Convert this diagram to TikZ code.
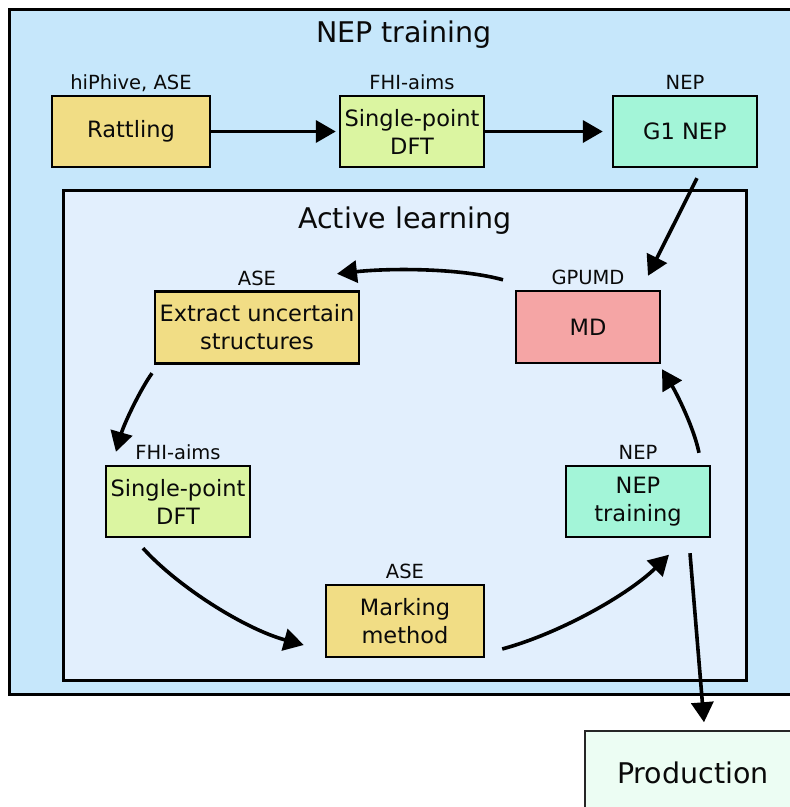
\documentclass[tikz,border=0pt]{standalone}
\usepackage{fontspec}
\setmainfont{DejaVu Sans}
\usetikzlibrary{arrows.meta,calc}
\definecolor{outerbg}{HTML}{C6E7FB}
\definecolor{innerbg}{HTML}{E2EFFD}
\definecolor{ylw}{HTML}{F1DD85}
\definecolor{lgreen}{HTML}{DBF5A1}
\definecolor{mint}{HTML}{A3F5D8}
\definecolor{pinkc}{HTML}{F5A5A5}
\definecolor{prodc}{HTML}{ECFDF3}
\definecolor{txt}{HTML}{0A0A0A}
\begin{document}
\begin{tikzpicture}[x=1pt,y=-1pt,
  region/.style={draw=black, line width=3pt, inner sep=0pt},
  box/.style={draw=black, line width=2.4pt, inner sep=0pt, align=center,
    text=txt, font=\fontsize{22.5}{28}\selectfont, minimum height=71pt},
  lab/.style={font=\fontsize{19.5}{22}\selectfont, text=txt, inner sep=0pt,
    text depth=0pt},
  conn/.style={line width=3.6pt, draw=black,
    -{Triangle[length=20pt,width=22pt]}},
  title/.style={font=\fontsize{28.5}{32}\selectfont, text=txt, anchor=base}
]
\useasboundingbox (0,0) rectangle (790,807);
\clip (0,0) rectangle (790,807);

% regions
\node[region, fill=outerbg, minimum width=802pt, minimum height=685pt] (outer) at (410,352) {};
\node[title] (outert) at (404,42) {NEP training};
\node[region, fill=innerbg, minimum width=683pt, minimum height=490pt] (inner) at (404.5,435) {};
\node[title] (innert) at (405,228) {Active learning};

% top row
\node[box, fill=ylw, minimum width=158pt,
  label={[lab, label distance=5pt]above:hiPhive, ASE}] (rat) at (131,131.5) {Rattling};
\node[box, fill=lgreen, minimum width=144pt,
  label={[lab, label distance=5pt]above:FHI-aims}] (dft1) at (412,131.5) {Single-point\\DFT};
\node[box, fill=mint, minimum width=144pt,
  label={[lab, label distance=5pt]above:NEP}] (g1) at (685,131.5) {G1 NEP};

% active learning loop
\node[box, fill=pinkc, minimum width=144pt, minimum height=72pt,
  label={[lab, label distance=5pt]above:GPUMD}] (md) at (588,327) {MD};
\node[box, fill=ylw, minimum width=204pt, minimum height=72pt,
  label={[lab, label distance=5pt]above:ASE}] (ext) at (257,327.5) {Extract uncertain\\structures};
\node[box, fill=lgreen, minimum width=144pt,
  label={[lab, label distance=5pt]above:FHI-aims}] (dft2) at (178,501.5) {Single-point\\DFT};
\node[box, fill=ylw, minimum width=158pt, minimum height=72pt,
  label={[lab, label distance=5pt]above:ASE}] (mark) at (405,621) {Marking\\method};
\node[box, fill=mint, minimum width=144pt,
  label={[lab, label distance=5pt]above:NEP}] (nept) at (638,501.5) {NEP\\training};

% production
\node[draw=black!85, line width=1.5pt, fill=prodc, minimum width=216pt, minimum height=84pt,
  font=\fontsize{28.5}{32}\selectfont, text=txt] (prod) at (693,773) {Production};

% connectors
\draw[conn] (rat.east) -- ($(dft1.west)+(-3,0)$);
\draw[conn] (dft1.east) -- ($(g1.west)+(-9,0)$);
\draw[conn] ($(g1.south)+(12,10)$) -- ($(md.north)+(60,-14)$);
\draw[conn] ($(md.north)+(-85,-10)$) .. controls (460,268) and (390,268) .. ($(ext.north)+(80,-16.5)$);
\draw[conn] ($(ext.south)+(-105,8.5)$) .. controls (140,390) and (124,424) .. ($(dft2.north)+(-62,-13)$);
\draw[conn] ($(dft2.south)+(-35,10)$) .. controls (178,587) and (245,629) .. ($(mark.west)+(-21,24)$);
\draw[conn] ($(mark.east)+(17,28)$) .. controls (561,633) and (629,594) .. ($(nept.south)+(31,16.5)$);
\draw[conn] ($(nept.north)+(61,-12)$) .. controls (694,428) and (677,394) .. ($(md.south)+(74,5)$);
\draw[conn] ($(nept.south)+(52,15)$) -- ($(prod.north)+(11,-8)$);
\end{tikzpicture}
\end{document}
